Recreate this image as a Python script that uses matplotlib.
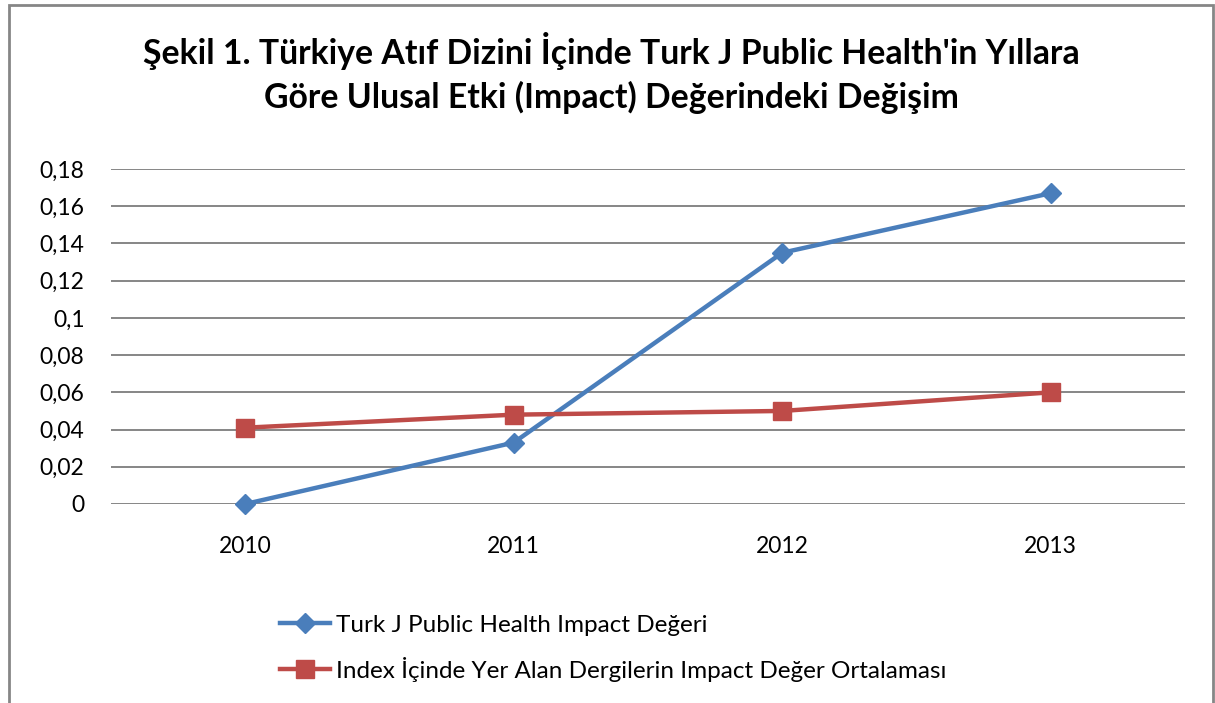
import matplotlib
matplotlib.use("Agg")
import matplotlib.pyplot as plt
from matplotlib.patches import Rectangle

plt.rcParams["font.family"] = ["Lato", "DejaVu Sans"]

# Veriler
years = ["2010", "2011", "2012", "2013"]
turk_j = [0.0, 0.033, 0.135, 0.167]
index_mean = [0.041, 0.048, 0.050, 0.060]
y_ticks = [0, 0.02, 0.04, 0.06, 0.08, 0.1, 0.12, 0.14, 0.16, 0.18]
y_tick_labels = ["0", "0,02", "0,04", "0,06", "0,08", "0,1", "0,12", "0,14", "0,16", "0,18"]

title = ("Şekil 1. Türkiye Atıf Dizini İçinde Turk J Public Health'in Yıllara\n"
         "Göre Ulusal Etki (Impact) Değerindeki Değişim")
label_blue = "Turk J Public Health Impact Değeri"
label_red = "Index İçinde Yer Alan Dergilerin Impact Değer Ortalaması"

fig = plt.figure(figsize=(12.15, 7.03), dpi=100)
ax = fig.add_axes([111 / 1215, 1 - 504 / 703, (1185 - 111) / 1215, (504 - 169) / 703])

x = list(range(len(years)))
ax.plot(x, turk_j, color="#4A7EBB", linewidth=3.2, marker="D", markersize=10,
        label=label_blue, zorder=3)
ax.plot(x, index_mean, color="#BE4B48", linewidth=3.2, marker="s", markersize=13,
        label=label_red, zorder=3)

ax.set_xlim(-0.5, 3.5)
ax.set_ylim(0, 0.18)
ax.set_xticks(x)
ax.set_xticklabels(years)
ax.set_yticks(y_ticks)
ax.set_yticklabels(y_tick_labels)
ax.tick_params(axis="both", length=0, labelsize=16.5, colors="black")
ax.tick_params(axis="y", pad=19)
ax.tick_params(axis="x", pad=23)
ax.grid(axis="y", color="#868686", linewidth=1.4)
ax.set_axisbelow(True)
for s in ax.spines.values():
    s.set_visible(False)
for line in ax.lines:
    line.set_clip_on(False)

fig.text(0.503, 1 - 73 / 703, title, ha="center", va="center", fontsize=24.3,
         fontweight="bold", linespacing=1.4)

fig.legend(loc="upper left", bbox_to_anchor=(258 / 1215, 1 - 593 / 703), frameon=False,
           fontsize=17.5, handlelength=2.05, labelspacing=0.85, handletextpad=0.25)

# Grafik çerçevesi
fig.patches.append(Rectangle((9 / 1215, -0.01), (1213 - 9) / 1215, 1 - 5 / 703 + 0.01,
                             transform=fig.transFigure, fill=False,
                             edgecolor="#868686", linewidth=2))

fig.savefig("out.png", dpi=100)
